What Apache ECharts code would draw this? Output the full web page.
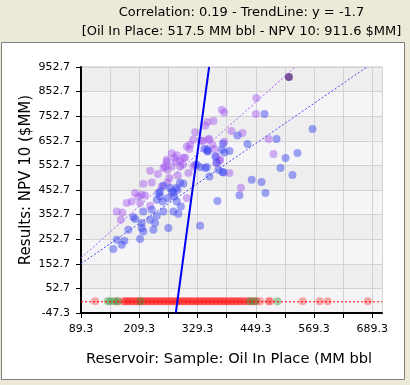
<!DOCTYPE html>
<html>
<head>
<meta charset="utf-8">
<script src="https://cdn.jsdelivr.net/npm/echarts@6/dist/echarts.min.js"></script>
<style>
html,body{margin:0;padding:0;background:#ECE9D8;}
#chart{width:410px;height:385px;}
</style>
</head>
<body>
<div id="chart"></div>
<script>
// ---- data ----
const titleLine1 = 'Correlation: 0.19 - TrendLine: y = -1.7';
const titleLine2 = '[Oil In Place: 517.5 MM bbl - NPV 10: 911.6 $MM]';
const xTitle = 'Reservoir: Sample: Oil In Place (MM bbl';
const yTitle = 'Results: NPV 10 ($MM)';

const xMin = 89.3, xMax = 709.3, xStep = 60, xLabelStep = 120;
const yMin = -47.3, yMax = 952.7, yStep = 100;

const purplePts = [[450.2,826.7],[379.4,779.1],[384.2,768.1],[449.5,761.6],[349.7,729.1],[362.1,733.2],[345.0,714.1],[399.2,692.5],[421.9,684.4],[340.2,653.1],[353.2,661.2],[475.5,660.0],[360.0,636.8],[384.2,649.0],[364.2,619.4],[485.8,599.0],[374.5,571.8],[367.7,562.5],[395.1,521.8],[418.6,462.0],[324.4,687.7],[320.2,657.2],[314.1,636.8],[307.3,629.9],[312.6,619.4],[351.8,657.2],[336.7,653.1],[367.7,589.3],[276.3,602.3],[286.6,594.2],[281.7,582.8],[266.0,567.7],[300.2,582.8],[293.4,570.6],[262.5,548.6],[276.3,548.6],[303.7,585.2],[299.0,555.5],[320.9,548.6],[231.6,531.2],[247.5,517.7],[259.0,542.1],[267.3,535.2],[288.7,512.0],[310.6,521.8],[217.8,478.3],[235.1,483.6],[267.3,483.6],[255.7,467.3],[271.4,501.5],[200.6,440.5],[207.5,426.7],[221.3,430.7],[183.5,399.9],[193.8,406.4],[162.9,365.7],[174.5,361.6],[171.2,332.0],[211.0,399.9],[231.6,388.9],[307.3,420.2],[375.9,575.9],[285.2,569.0],[266.0,575.9],[214.5,433.6],[324.4,555.5],[293.4,548.6]];

const bluePts = [[467.3,761.6],[566.2,700.7],[411.6,674.6],[492.0,660.0],[381.5,640.9],[432.2,639.7],[343.5,620.6],[349.7,609.6],[395.1,611.2],[384.8,605.5],[535.3,603.1],[510.6,582.8],[366.2,589.3],[500.3,542.1],[348.5,546.2],[525.0,513.7],[440.9,494.6],[461.1,485.2],[415.7,431.6],[469.3,440.5],[370.3,408.4],[334.7,307.6],[380.7,525.9],[348.5,616.5],[369.1,564.9],[327.9,555.5],[334.7,546.2],[345.0,542.1],[372.4,535.2],[382.7,524.2],[353.9,508.0],[259.0,470.2],[293.4,482.4],[300.2,478.3],[252.2,447.0],[248.7,440.5],[272.8,460.8],[287.9,453.9],[279.6,440.5],[276.3,447.0],[285.2,460.8],[281.1,426.7],[197.1,342.9],[200.6,334.8],[217.8,365.7],[235.1,372.6],[245.4,413.3],[257.8,406.4],[268.1,420.2],[286.6,406.4],[294.9,386.0],[279.6,365.7],[289.9,356.4],[259.0,365.7],[245.4,348.2],[231.6,332.0],[214.5,318.6],[241.9,318.6],[214.5,298.2],[217.8,284.4],[238.4,291.3],[269.3,298.2],[211.0,253.5],[186.8,291.3],[162.9,250.7],[173.2,230.3],[178.6,246.6],[155.9,212.9],[252.2,426.7],[379.4,616.5],[351.0,612.0]];

const selectedPt = [517.5, 911.6];

// samples with NPV 10 = 0 (oil in place values)
const redX = [118.2,163.5,175.3,179.0,182.5,185.1,188.9,191.7,195.4,199.0,202.2,205.8,209.5,212.4,216.1,219.8,223.0,226.4,230.1,233.5,237.2,240.6,244.0,247.9,251.3,254.6,258.2,261.9,265.0,268.7,272.3,275.6,279.2,282.8,286.1,289.9,293.2,296.8,300.5,303.7,307.4,310.9,314.3,318.0,321.4,324.9,328.6,331.8,335.5,339.1,342.4,346.0,349.7,353.1,356.6,360.2,363.8,367.1,370.9,374.2,377.8,381.4,384.7,388.5,391.8,395.5,399.0,402.3,406.1,409.7,413.0,416.9,420.4,424.0,428.2,432.5,436.9,441.3,446.0,450.8,458.4,475.5,479.0,546.0,580.7,597.2,680.0];
const greenX = [144.4,149.7,158.0,165.5,212.0,437.8,448.0,494.0];

const lineSolid = [[284.6,-47.3],[353.2,952.7]];
const linePurple = [[89.3,176.3],[530.5,952.7]];
const lineBlue = [[89.3,153.1],[678.3,952.7]];
const lineRed = [[89.3,-1.7],[709.3,-1.7]];

// ---- chart ----
const FONT = 'DejaVu Sans';
const chart = echarts.init(document.getElementById('chart'), null, {renderer:'canvas'});
const zeroRow = xs => xs.map(x => [x, 0]);

chart.setOption({
  backgroundColor: '#ECE9D8',
  animation: false,
  textStyle: {fontFamily: FONT},
  graphic: [
    {type:'rect', z:-10, shape:{x:1.5, y:42.5, width:403, height:337},
     style:{fill:'#FFFFFF', stroke:'#7F7F7F', lineWidth:1}},
    {type:'text', x:241.5, y:13, style:{text:titleLine1, font:'13px "DejaVu Sans"', fill:'#000', align:'center', verticalAlign:'middle'}},
    {type:'text', x:241.5, y:31.5, style:{text:titleLine2, font:'13px "DejaVu Sans"', fill:'#000', align:'center', verticalAlign:'middle'}},
    {type:'text', x:229, y:359, style:{text:xTitle, font:'14.6px "DejaVu Sans"', fill:'#000', align:'center', verticalAlign:'middle'}},
    {type:'text', x:26, y:180, rotation:Math.PI/2, style:{text:yTitle, font:'15px "DejaVu Sans"', fill:'#000', align:'center', verticalAlign:'middle'}}
  ],
  grid: {left:81, top:67, right:28, bottom:72, show:true, borderColor:'#C4C4C4', borderWidth:1, backgroundColor:'transparent'},
  xAxis: {
    type:'value', min:xMin, max:xMax, interval:xStep,
    axisLine:{show:true, onZero:false, lineStyle:{color:'#000', width:2}},
    axisTick:{show:true, length:5, inside:false, lineStyle:{color:'#000', width:1}},
    axisLabel:{fontSize:11, fontFamily:FONT, color:'#000', margin:11,
      showMaxLabel:false,
      formatter: v => {
        const k = (v - xMin) / xLabelStep;
        return Math.abs(k - Math.round(k)) < 1e-6 ? v.toFixed(1) : '';
      }},
    splitLine:{show:true, lineStyle:{color:'#D2D2D2', width:1}}
  },
  yAxis: {
    type:'value', min:yMin, max:yMax, interval:yStep,
    axisLine:{show:true, onZero:false, lineStyle:{color:'#000', width:2}},
    axisTick:{show:true, length:5, lineStyle:{color:'#000', width:1}},
    axisLabel:{fontSize:11, fontFamily:FONT, color:'#000', margin:11, formatter: v => v.toFixed(1)},
    splitLine:{show:true, lineStyle:{color:'#D2D2D2', width:1}},
    splitArea:{show:true, areaStyle:{color:['#F5F5F7','#EEEEEE']}}
  },
  series: [
    {type:'scatter', name:'purple', data:purplePts, symbolSize:8,
     itemStyle:{color:'rgba(160,80,240,0.55)'}},
    {type:'scatter', name:'blue', data:bluePts, symbolSize:8,
     itemStyle:{color:'rgba(60,70,240,0.6)'}},
    {type:'scatter', name:'red', data:zeroRow(redX), symbolSize:8,
     itemStyle:{color:'rgba(255,30,30,0.45)'}},
    {type:'scatter', name:'green', data:zeroRow(greenX), symbolSize:8,
     itemStyle:{color:'rgba(60,150,60,0.55)'}},
    {type:'scatter', name:'selected', data:[selectedPt], symbolSize:8,
     itemStyle:{color:'#5B2C83'}},
    {type:'line', data:linePurple, symbol:'none', clip:true,
     lineStyle:{color:'#A860F0', width:1, type:[2,2]}},
    {type:'line', data:lineBlue, symbol:'none', clip:true,
     lineStyle:{color:'#4848F0', width:1, type:[2,2]}},
    {type:'line', data:lineRed, symbol:'none', clip:true,
     lineStyle:{color:'#FF0000', width:1, type:[2,2]}},
    {type:'line', data:lineSolid, symbol:'none', clip:true,
     lineStyle:{color:'#0000F0', width:2}}
  ]
});
</script>
</body>
</html>
